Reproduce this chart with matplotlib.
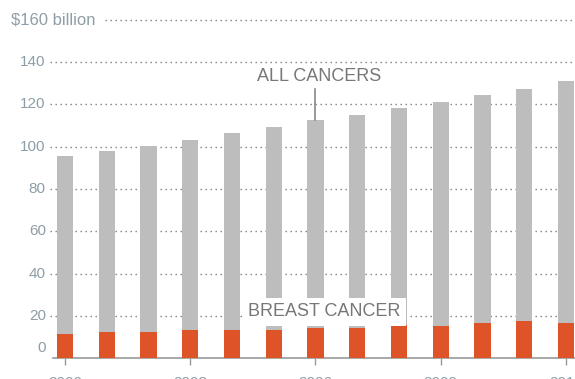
import numpy as np
import matplotlib
matplotlib.use("Agg")
import matplotlib.pyplot as plt

plt.rcParams['font.family'] = ['Liberation Sans', 'DejaVu Sans']

years = list(range(2000, 2013))
all_cancers = [95.6, 97.9, 100.3, 103.1, 106.4, 109.3, 112.6, 115.0, 118.3, 121.3, 124.3, 127.2, 131.0]
breast_cancer = [11.5, 12.4, 12.4, 13.4, 13.4, 13.4, 14.3, 14.3, 15.7, 15.3, 16.7, 17.6, 16.7]
tick_years = [2000, 2003, 2006, 2009, 2012]
grid_values = [20, 40, 60, 80, 100, 120, 140]

GRAY = "#bdbdbe"
RED = "#df5328"
LABEL = "#8e9da6"
TEXT = "#777777"

W, H = 575, 379
fig = plt.figure(figsize=(W / 100, H / 100), dpi=100)
# axes: left edge at 50px, baseline at ~358px, right edge at the figure edge
ax = fig.add_axes([50 / W, (H - 358.3) / H, 1 - 50 / W, 169 * 2.117 / H])

x = np.arange(len(years))
ax.set_xlim(-0.359, 12.216)
ax.set_ylim(0, 169)

# dotted gridlines sit behind the bars
for v in grid_values:
    ax.plot([-0.359, 12.216], [v, v], color="#7f7f7f", lw=1.0,
            linestyle=(0, (1, 2.6)), zorder=1)
ax.plot([0.96, 12.216], [160, 160], color="#7f7f7f", lw=1.0,
        linestyle=(0, (1, 2.6)), zorder=1)

ax.bar(x, all_cancers, width=0.39, color=GRAY, zorder=2)
ax.bar(x, breast_cancer, width=0.39, color=RED, zorder=3)

for s in ["top", "right", "left"]:
    ax.spines[s].set_visible(False)
ax.spines["bottom"].set_color("#9a9a9a")
ax.spines["bottom"].set_linewidth(1.2)
ax.spines["bottom"].set_bounds(-0.29, 12.216)

ax.set_yticks([])
ax.set_xticks([years.index(y) for y in tick_years])
ax.set_xticklabels([str(y) for y in tick_years])
ax.tick_params(axis="x", length=5, width=1, color="#9a9a9a", pad=7.5,
               labelsize=11, labelcolor=LABEL)

# y labels drawn by hand so the zero can sit above the baseline
ylab = ax.get_yaxis_transform()
for v in grid_values:
    ax.text(-0.008, v, str(v), transform=ylab, ha="right", va="center",
            fontsize=11, color=LABEL)
ax.text(-0.008, 5, "0", transform=ylab, ha="right", va="center",
        fontsize=11, color=LABEL)
ax.text(-0.075, 160, "$160 billion", transform=ylab, ha="left", va="center",
        fontsize=12, color=LABEL)

# series labels
ax.text(6.08, 133.3, "ALL CANCERS", ha="center", va="center",
        fontsize=13, color=TEXT, zorder=5)
ax.plot([6, 6], [127, all_cancers[6]], color="#888888", lw=1.2, zorder=4)
ax.text(6.2, 21.9, "BREAST CANCER", ha="center", va="center",
        fontsize=13, color=TEXT, zorder=5,
        bbox=dict(boxstyle="square,pad=0.32", fc="white", ec="none"))

fig.savefig("out.png", dpi=100)
